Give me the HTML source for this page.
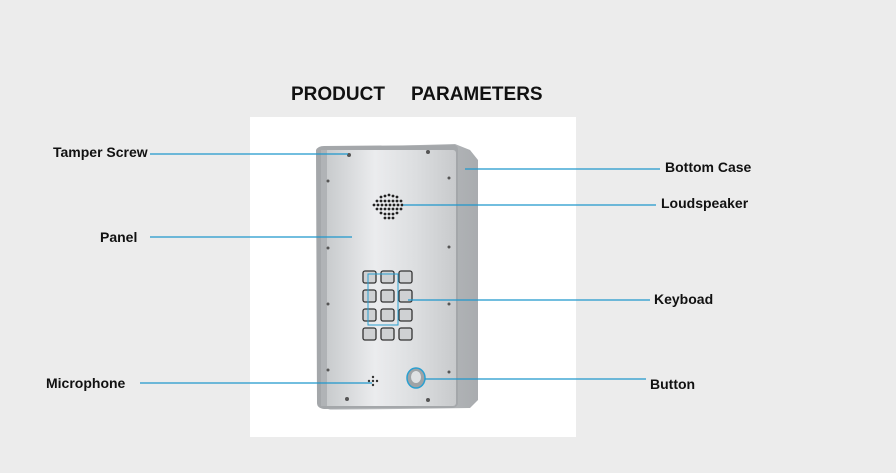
<!DOCTYPE html>
<html><head><meta charset="utf-8"><style>
html,body{margin:0;padding:0;width:896px;height:473px;overflow:hidden;background:#ececec;}
svg{display:block}
text{font-family:"Liberation Sans",Arial,sans-serif;font-weight:bold;fill:#111;}
</style></head><body>
<svg width="896" height="473" viewBox="0 0 896 473">
<defs>
<linearGradient id="pan" x1="0" y1="0" x2="1" y2="0">
<stop offset="0" stop-color="#c4c7c9"/><stop offset="0.4" stop-color="#ebecee"/><stop offset="0.7" stop-color="#dcdee0"/><stop offset="1" stop-color="#c8cacc"/>
</linearGradient>
<linearGradient id="side" x1="0" y1="0" x2="1" y2="0">
<stop offset="0" stop-color="#d8dadc"/><stop offset="1" stop-color="#a9acaf"/>
</linearGradient>
</defs>
<rect width="896" height="473" fill="#ececec"/>
<text x="291" y="100" font-size="19">PRODUCT</text>
<text x="411" y="100" font-size="19">PARAMETERS</text>
<rect x="250" y="117" width="326" height="320" fill="#fff"/>
<path d="M318 148 L455 144 L470 150 L478 160 L478 400 L470 408 L330 410 L318 404 Z" fill="url(#side)"/>
<path d="M316 150 Q318 146 324 146 L455 145 Q458 146 458 150 L458 404 Q456 408 452 408 L324 409 Q317 408 317 403 Z" fill="#a4a7aa"/>
<rect x="321" y="150" width="135" height="256" rx="3" fill="url(#pan)"/>
<rect x="321" y="150" width="6" height="256" fill="#b0b3b6"/>
<g fill="#555">
<circle cx="349" cy="155" r="2"/><circle cx="428" cy="152" r="2"/><circle cx="328" cy="181" r="1.5"/><circle cx="449" cy="178" r="1.5"/>
<circle cx="328" cy="248" r="1.5"/><circle cx="449" cy="247" r="1.5"/><circle cx="328" cy="304" r="1.5"/><circle cx="449" cy="304" r="1.5"/>
<circle cx="328" cy="370" r="1.5"/><circle cx="449" cy="372" r="1.5"/><circle cx="347" cy="399" r="2"/><circle cx="428" cy="400" r="2"/>
</g>
<g fill="#222">
<circle cx="381" cy="197" r="1.4"/><circle cx="385" cy="196" r="1.4"/><circle cx="389" cy="195" r="1.4"/><circle cx="393" cy="196" r="1.4"/><circle cx="397" cy="197" r="1.4"/>
<circle cx="377" cy="201" r="1.4"/><circle cx="381" cy="201" r="1.4"/><circle cx="385" cy="201" r="1.4"/><circle cx="389" cy="201" r="1.4"/><circle cx="393" cy="201" r="1.4"/><circle cx="397" cy="201" r="1.4"/><circle cx="401" cy="201" r="1.4"/>
<circle cx="374" cy="205" r="1.4"/><circle cx="378" cy="205" r="1.4"/><circle cx="382" cy="205" r="1.4"/><circle cx="386" cy="205" r="1.4"/><circle cx="390" cy="205" r="1.4"/><circle cx="394" cy="205" r="1.4"/><circle cx="398" cy="205" r="1.4"/><circle cx="402" cy="205" r="1.4"/>
<circle cx="377" cy="209" r="1.4"/><circle cx="381" cy="209" r="1.4"/><circle cx="385" cy="209" r="1.4"/><circle cx="389" cy="209" r="1.4"/><circle cx="393" cy="209" r="1.4"/><circle cx="397" cy="209" r="1.4"/><circle cx="401" cy="209" r="1.4"/>
<circle cx="381" cy="213" r="1.4"/><circle cx="385" cy="214" r="1.4"/><circle cx="389" cy="214" r="1.4"/><circle cx="393" cy="214" r="1.4"/><circle cx="397" cy="213" r="1.4"/>
<circle cx="385" cy="218" r="1.4"/><circle cx="389" cy="218" r="1.4"/><circle cx="393" cy="218" r="1.4"/>
</g>
<g fill="#cfd1d3" stroke="#333" stroke-width="1.3">
<rect x="363" y="271" width="13" height="12" rx="2"/><rect x="381" y="271" width="13" height="12" rx="2"/><rect x="399" y="271" width="13" height="12" rx="2"/>
<rect x="363" y="290" width="13" height="12" rx="2"/><rect x="381" y="290" width="13" height="12" rx="2"/><rect x="399" y="290" width="13" height="12" rx="2"/>
<rect x="363" y="309" width="13" height="12" rx="2"/><rect x="381" y="309" width="13" height="12" rx="2"/><rect x="399" y="309" width="13" height="12" rx="2"/>
<rect x="363" y="328" width="13" height="12" rx="2"/><rect x="381" y="328" width="13" height="12" rx="2"/><rect x="399" y="328" width="13" height="12" rx="2"/>
</g>
<rect x="368" y="274" width="30" height="51" fill="none" stroke="#2a9fd0" stroke-width="1"/>
<g fill="#333"><circle cx="373" cy="377" r="1.2"/><circle cx="369" cy="381" r="1.2"/><circle cx="377" cy="381" r="1.2"/><circle cx="373" cy="385" r="1.2"/><circle cx="373" cy="381" r="1.2"/></g>
<ellipse cx="416" cy="378" rx="9" ry="10" fill="#9fa3a6" stroke="#2a9fd0" stroke-width="1.5"/>
<ellipse cx="416" cy="377" rx="5" ry="6" fill="#dfe1e3"/>
<g stroke="#1f97cc" stroke-width="1.2">
<line x1="150" y1="154" x2="348" y2="154"/>
<line x1="150" y1="237" x2="352" y2="237"/>
<line x1="140" y1="383" x2="372" y2="383"/>
<line x1="465" y1="169" x2="660" y2="169"/>
<line x1="403" y1="205" x2="656" y2="205"/>
<line x1="408" y1="300" x2="650" y2="300"/>
<line x1="425" y1="379" x2="646" y2="379"/>
</g>
<g font-size="14">
<text x="53" y="157">Tamper Screw</text>
<text x="100" y="242">Panel</text>
<text x="46" y="388">Microphone</text>
<text x="665" y="172">Bottom Case</text>
<text x="661" y="208">Loudspeaker</text>
<text x="654" y="304">Keyboad</text>
<text x="650" y="389">Button</text>
</g>
</svg>
</body></html>
